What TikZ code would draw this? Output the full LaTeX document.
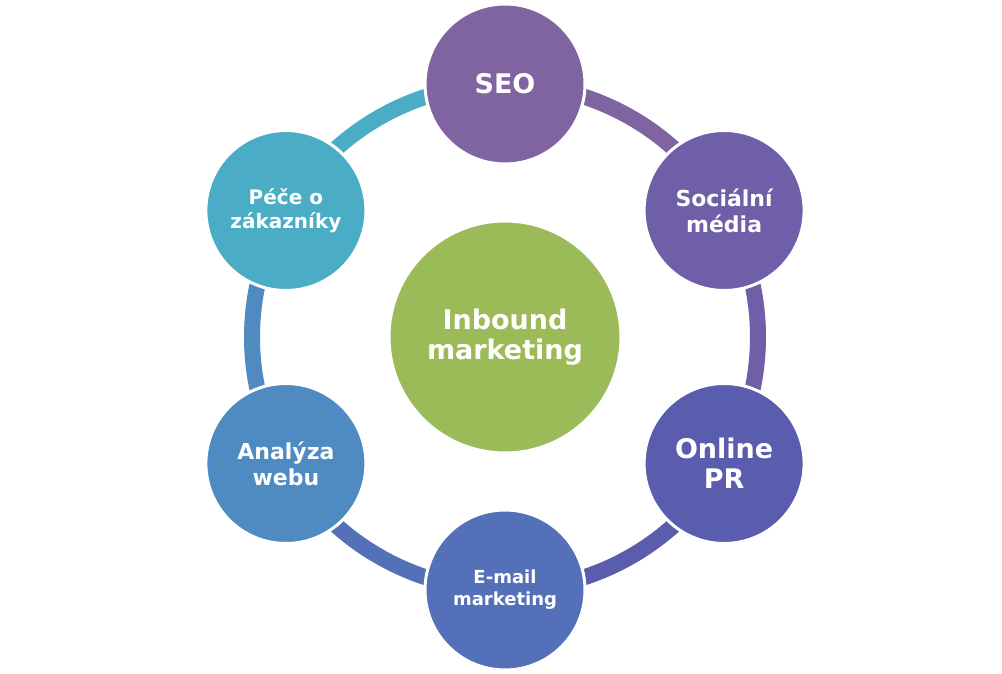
\documentclass[tikz,border=0pt]{standalone}
\usepackage{fontspec}
\setmainfont{DejaVu Sans}
\usetikzlibrary{positioning,calc}
\definecolor{cSeo}{HTML}{8064A2}
\definecolor{cSoc}{HTML}{6E5FA8}
\definecolor{cPr}{HTML}{5A5CAE}
\definecolor{cMail}{HTML}{5470B8}
\definecolor{cWeb}{HTML}{4F8BC0}
\definecolor{cCare}{HTML}{4BACC6}
\definecolor{cHub}{HTML}{9BBB59}
\tikzset{
  ball/.style={circle,fill=#1,draw=white,line width=3pt,minimum size=160pt,inner sep=0pt,
    align=center,text=white,font=\bfseries},
  link/.style={line width=16pt,draw=#1}
}
\begin{document}
\begin{tikzpicture}[x=1pt,y=1pt]
\useasboundingbox (0,0) rectangle (1002,673);
\coordinate (c) at (505,336);
% ring segments
\foreach \a/\col in {90/cSeo,30/cSoc,-30/cPr,-90/cMail,-150/cWeb,150/cCare} {
  \draw[link=\col] (c) ++(\a:253) arc[start angle=\a, end angle=\a-60, radius=253];
}
\node[ball=cHub,minimum size=232pt,font=\bfseries\fontsize{27}{30}\selectfont] (hub) at (c) {Inbound\\marketing};
\node[ball=cSeo,font=\bfseries\fontsize{27}{30}\selectfont] (seo) at ($(c)+(90:253)$) {SEO};
\node[ball=cSoc,font=\bfseries\fontsize{22}{26}\selectfont] (soc) at ($(c)+(30:253)$) {Sociální\\média};
\node[ball=cPr,font=\bfseries\fontsize{27}{30}\selectfont] (pr) at ($(c)+(-30:253)$) {Online\\PR};
\node[ball=cMail,font=\bfseries\fontsize{18}{22}\selectfont] (mail) at ($(c)+(-90:253)$) {E-mail\\marketing};
\node[ball=cWeb,font=\bfseries\fontsize{22}{26}\selectfont] (web) at ($(c)+(-150:253)$) {Analýza\\webu};
\node[ball=cCare,font=\bfseries\fontsize{20}{24}\selectfont] (care) at ($(c)+(150:253)$) {Péče o\\zákazníky};
\end{tikzpicture}
\end{document}
